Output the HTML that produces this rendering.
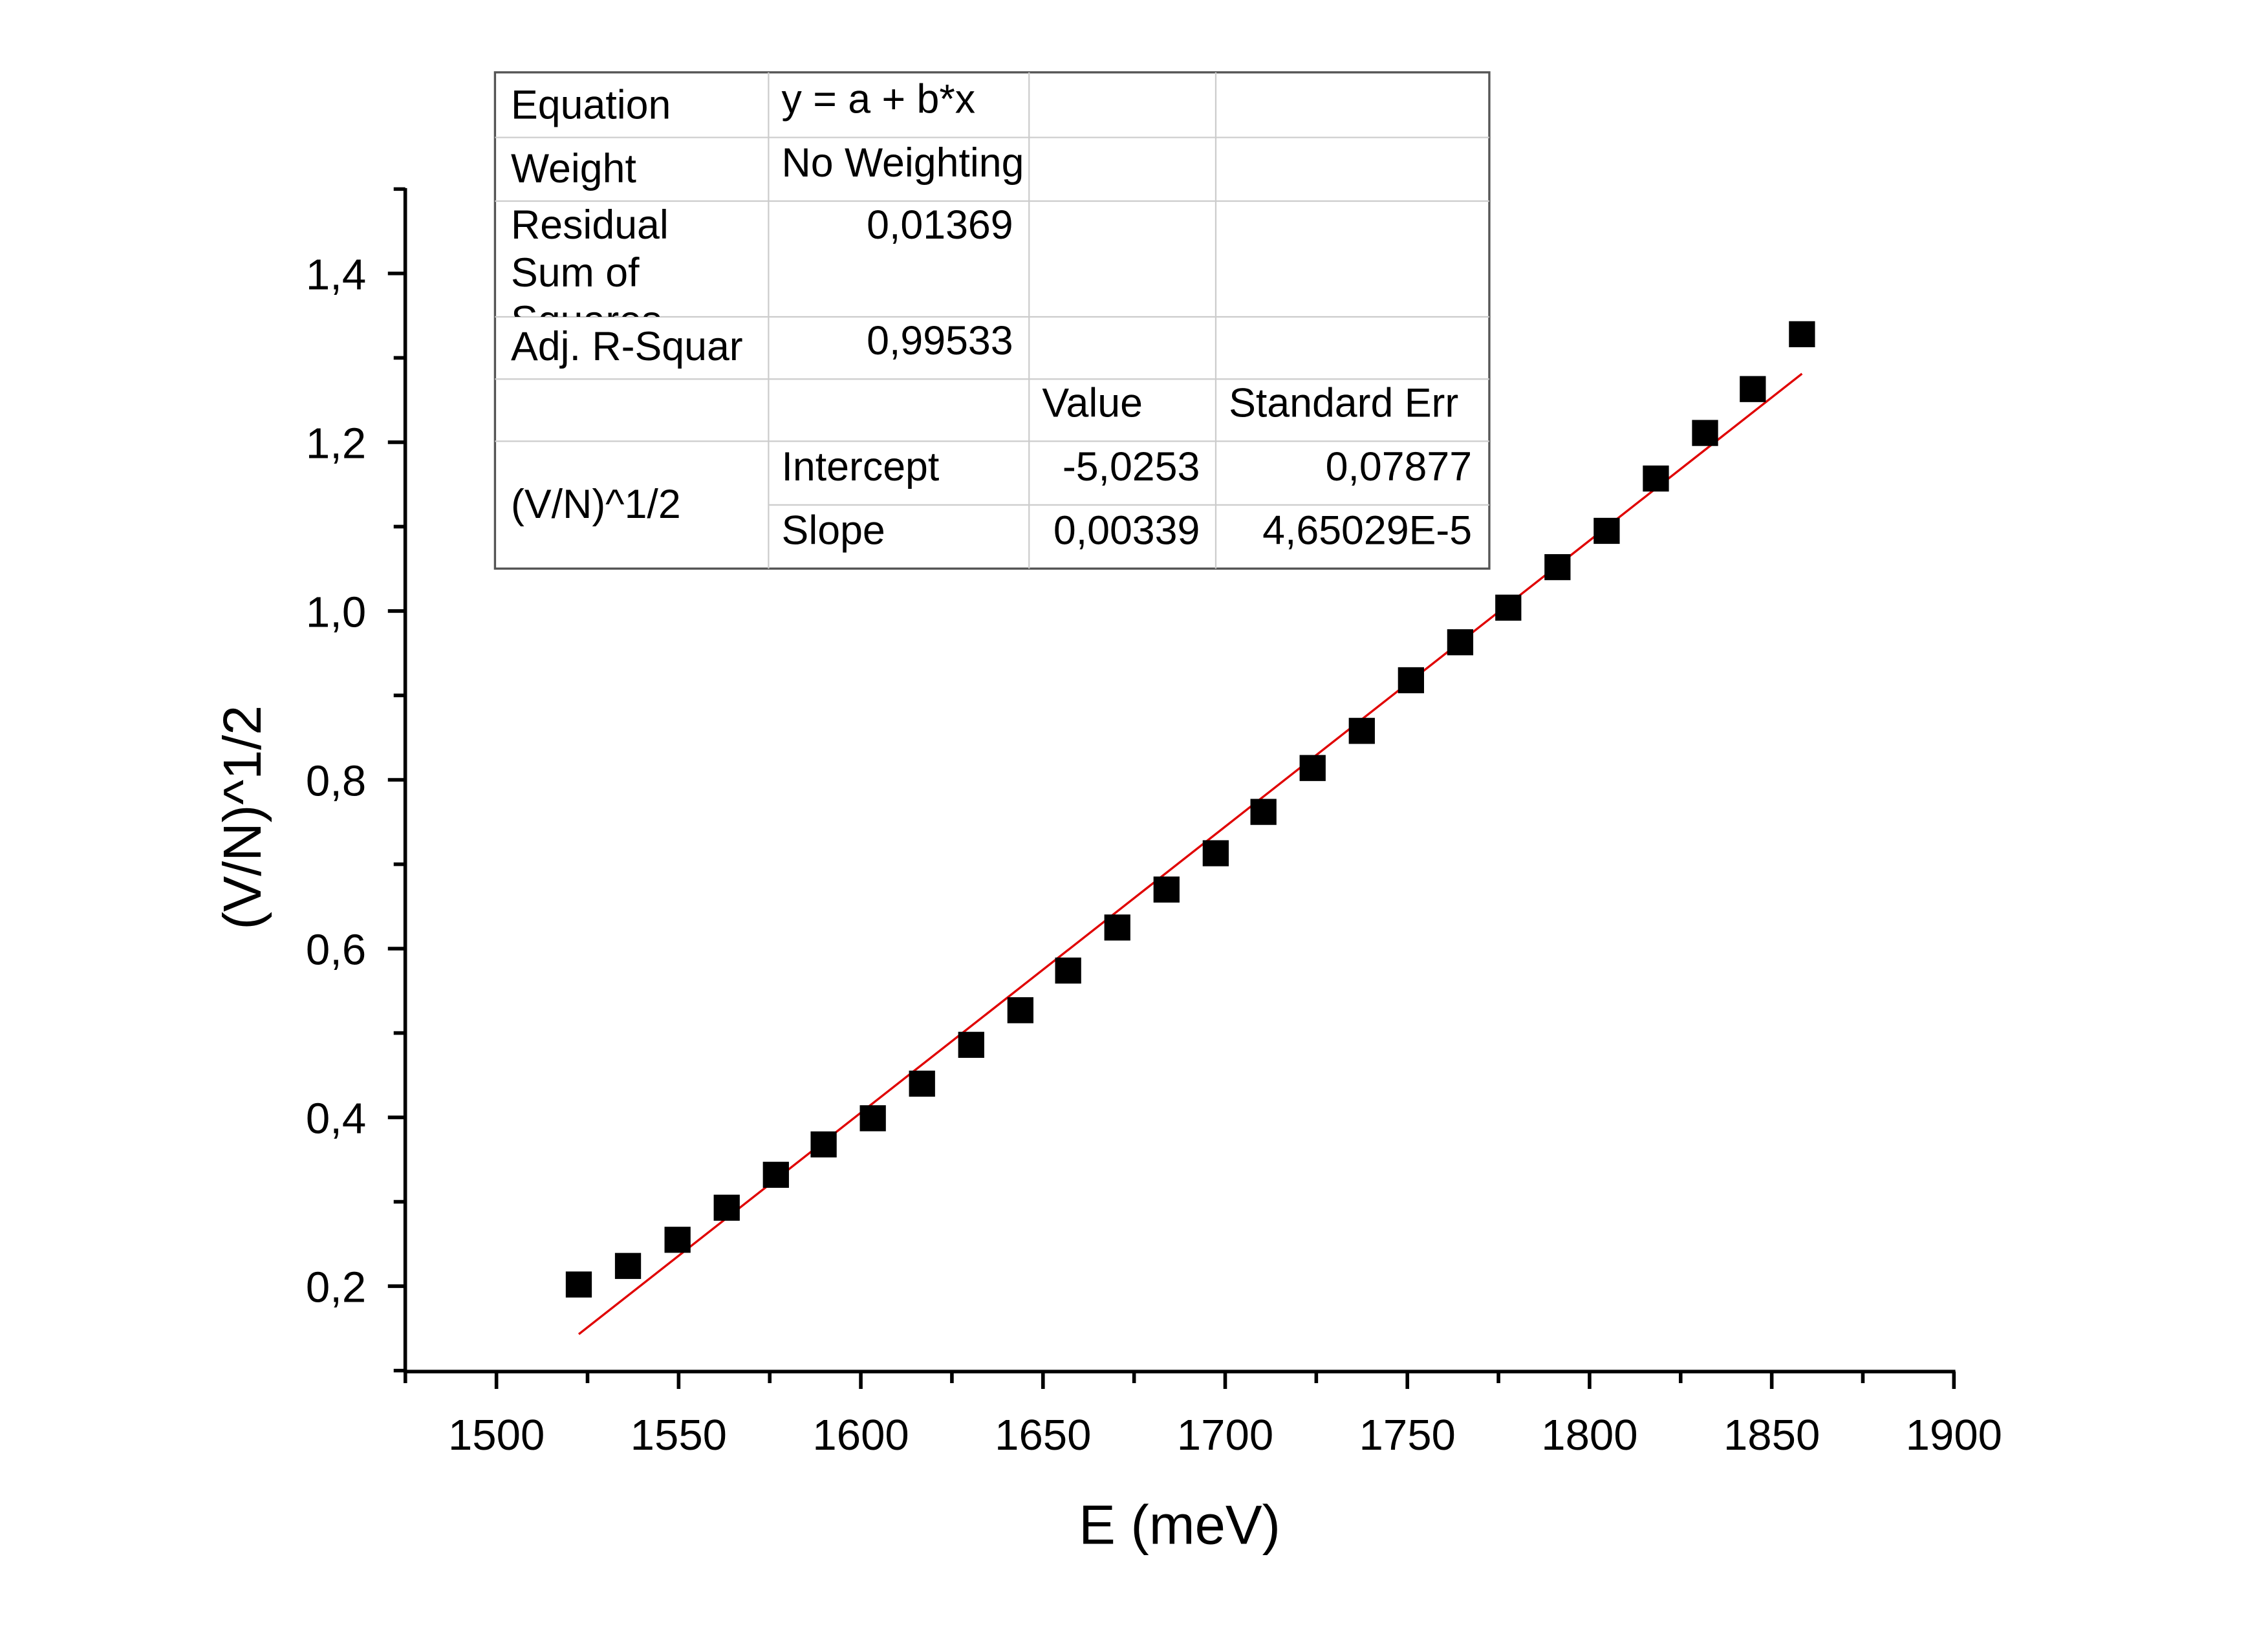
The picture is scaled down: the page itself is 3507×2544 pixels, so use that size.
<!DOCTYPE html>
<html><head><meta charset="utf-8"><style>
html,body{margin:0;padding:0;background:#fff;}
svg{display:block;font-family:"Liberation Sans",Arial,sans-serif;}
</style></head><body>
<svg id="chart" width="3507" height="2544" viewBox="0 0 1567 1137" preserveAspectRatio="none" xmlns="http://www.w3.org/2000/svg">
<rect width="1567" height="1137" fill="#fff"/>
<defs><clipPath id="c3"><rect x="342" y="139" width="189" height="80"/></clipPath></defs>
<g id="axes" stroke="#000" stroke-width="2.5" fill="none">
<line x1="280" y1="130" x2="280" y2="949"/>
<line x1="279" y1="948" x2="1351" y2="948"/>
</g>
<g id="ticks"></g>
<line id="fit" stroke="#e00000" stroke-width="1.5"/>
<g id="pts"></g>
<text transform="translate(180,565) rotate(-90)" text-anchor="middle" font-size="37">(V/N)^1/2</text>
<text x="815" y="1067" text-anchor="middle" font-size="38">E (meV)</text>
<g id="table" font-size="28">
<rect x="342" y="50" width="687" height="343" fill="#fff" stroke="#555" stroke-width="1.5"/>
<g stroke="#ccc" stroke-width="1">
<line x1="342" y1="95" x2="1029" y2="95"/><line x1="342" y1="139" x2="1029" y2="139"/>
<line x1="342" y1="219" x2="1029" y2="219"/><line x1="342" y1="262" x2="1029" y2="262"/>
<line x1="342" y1="305" x2="1029" y2="305"/><line x1="531" y1="349" x2="1029" y2="349"/>
<line x1="531" y1="50" x2="531" y2="393"/><line x1="711" y1="50" x2="711" y2="393"/>
<line x1="840" y1="50" x2="840" y2="393"/>
</g>
<text x="353" y="82">Equation</text><text x="540" y="78">y = a + b*x</text>
<text x="353" y="126">Weight</text><text x="540" y="122">No Weighting</text>
<g clip-path="url(#c3)"><text x="353" y="165">Residual</text><text x="353" y="198">Sum of</text><text x="353" y="231">Squares</text></g>
<text x="700" y="165" text-anchor="end">0,01369</text>
<text x="353" y="249">Adj. R-Squar</text><text x="700" y="245" text-anchor="end">0,99533</text>
<text x="720" y="288">Value</text><text x="849" y="288">Standard Err</text>
<text x="353" y="358">(V/N)^1/2</text>
<text x="540" y="332">Intercept</text><text x="829" y="332" text-anchor="end">-5,0253</text><text x="1017" y="332" text-anchor="end">0,07877</text>
<text x="540" y="376">Slope</text><text x="829" y="376" text-anchor="end">0,00339</text><text x="1017" y="376" text-anchor="end">4,65029E-5</text>
</g>
<script>
const energies=[1522.6,1536.1,1549.7,1563.2,1576.7,1589.8,1603.3,1616.8,1630.3,1643.8,1656.9,1670.4,1683.9,1697.4,1710.5,1724.0,1737.5,1751.0,1764.5,1777.7,1791.2,1804.7,1818.2,1831.7,1844.8,1858.3];
const values=[0.202,0.224,0.255,0.293,0.332,0.368,0.399,0.440,0.486,0.527,0.574,0.625,0.670,0.713,0.762,0.814,0.858,0.918,0.963,1.004,1.052,1.095,1.157,1.211,1.263,1.328];
const fitParams=[-5.0253,0.00339];
const xTicks=[1500,1550,1600,1650,1700,1750,1800,1850,1900];
const yTicks=[0.2,0.4,0.6,0.8,1.0,1.2,1.4];
const NS="http://www.w3.org/2000/svg";
function xs(v){return 343+(v-1500)*2.5175;}
function ys(v){return 889-(v-0.2)*583.33;}
function mk(t,a,p){const e=document.createElementNS(NS,t);for(const k in a)e.setAttribute(k,a[k]);p.appendChild(e);return e;}
const tk=document.getElementById('ticks');
for(let v=1475;v<=1900;v+=25){const major=v%50===0;
 const l=mk('line',{x1:xs(v),x2:xs(v),y1:948,y2:major?960:956,stroke:'#000','stroke-width':2.5},tk);
 
 }
xTicks.forEach(v=>{const t=mk('text',{x:xs(v),y:1002,'text-anchor':'middle','font-size':30},tk);t.textContent=v;
 
 });
for(let i=1;i<=15;i++){const v=i/10;const major=i%2===0;
 const l=mk('line',{x1:major?268:272,x2:280,y1:ys(v),y2:ys(v),stroke:'#000','stroke-width':2.5},tk);
 
 }
yTicks.forEach(v=>{const t=mk('text',{x:253,y:ys(v)+11,'text-anchor':'end','font-size':30},tk);t.textContent=v.toFixed(1).replace('.',',');
 
 });
const f=document.getElementById('fit');
const e0=energies[0],e1=energies[energies.length-1];
f.setAttribute('x1',xs(e0));f.setAttribute('y1',ys(fitParams[0]+fitParams[1]*e0)-4);
f.setAttribute('x2',xs(e1));f.setAttribute('y2',ys(fitParams[0]+fitParams[1]*e1)-4);
const pg=document.getElementById('pts');
energies.forEach((e,i)=>{const r=mk('rect',{x:xs(e)-9,y:ys(values[i])-9,width:18,height:18,fill:'#000'},pg);
 
 });
</script>
</svg>
</body></html>
